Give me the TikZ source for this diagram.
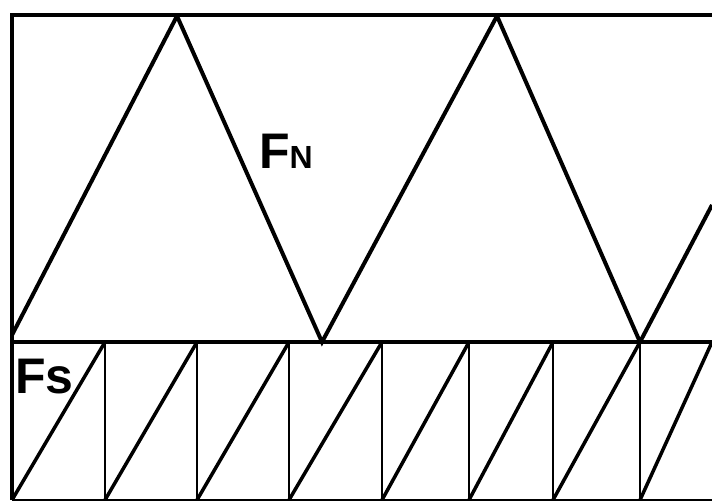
\documentclass[tikz,border=0pt]{standalone}
\usepackage{fontspec}
\setmainfont{Liberation Sans}
\usetikzlibrary{positioning}
\tikzset{
  frameLine/.style={line width=4.5pt, black},
  midLine/.style={line width=4pt, black},
  waveLine/.style={line width=4pt, black, line join=miter},
  sawLine/.style={line width=3.5pt, black},
  cellLine/.style={line width=2.5pt, black},
  forceLabel/.style={font=\bfseries\fontsize{50}{50}\selectfont,
                     inner sep=0pt, anchor=base west},
}
\begin{document}
\begin{tikzpicture}[x=1pt, y=-1pt]
    \useasboundingbox (0,0) rectangle (712,503);
    % marco
    \draw[frameLine] (712,15) -- (12,15) -- (12,500);
    \draw[cellLine] (12,500) -- (712,500);
    \draw[midLine] (12,342) -- (712,342);

    % onda triangular (arriba)
    \begin{scope}
      \clip (12,15) rectangle (712,500);
      \draw[waveLine] (12,335) -- (177,16) -- (322,342) -- (497,16)
           -- (640,342) -- (712,205);
    \end{scope}

    % dientes de sierra (abajo)
    \foreach \xa/\xb in {12/105, 105/197, 197/289, 289/382, 382/469,
                         469/553, 553/640, 640/712}
      \draw[sawLine] (\xa,500) -- (\xb,342);
    \foreach \xv in {105,197,289,382,469,553,640}
      \draw[cellLine] (\xv,342) -- (\xv,500);

    % etiquetas
    \node[forceLabel] (fn) at (259,168) {F\fontsize{32}{32}\selectfont N};
    \node[forceLabel] (fs) at (15,393) {Fs};
\end{tikzpicture}
\end{document}
